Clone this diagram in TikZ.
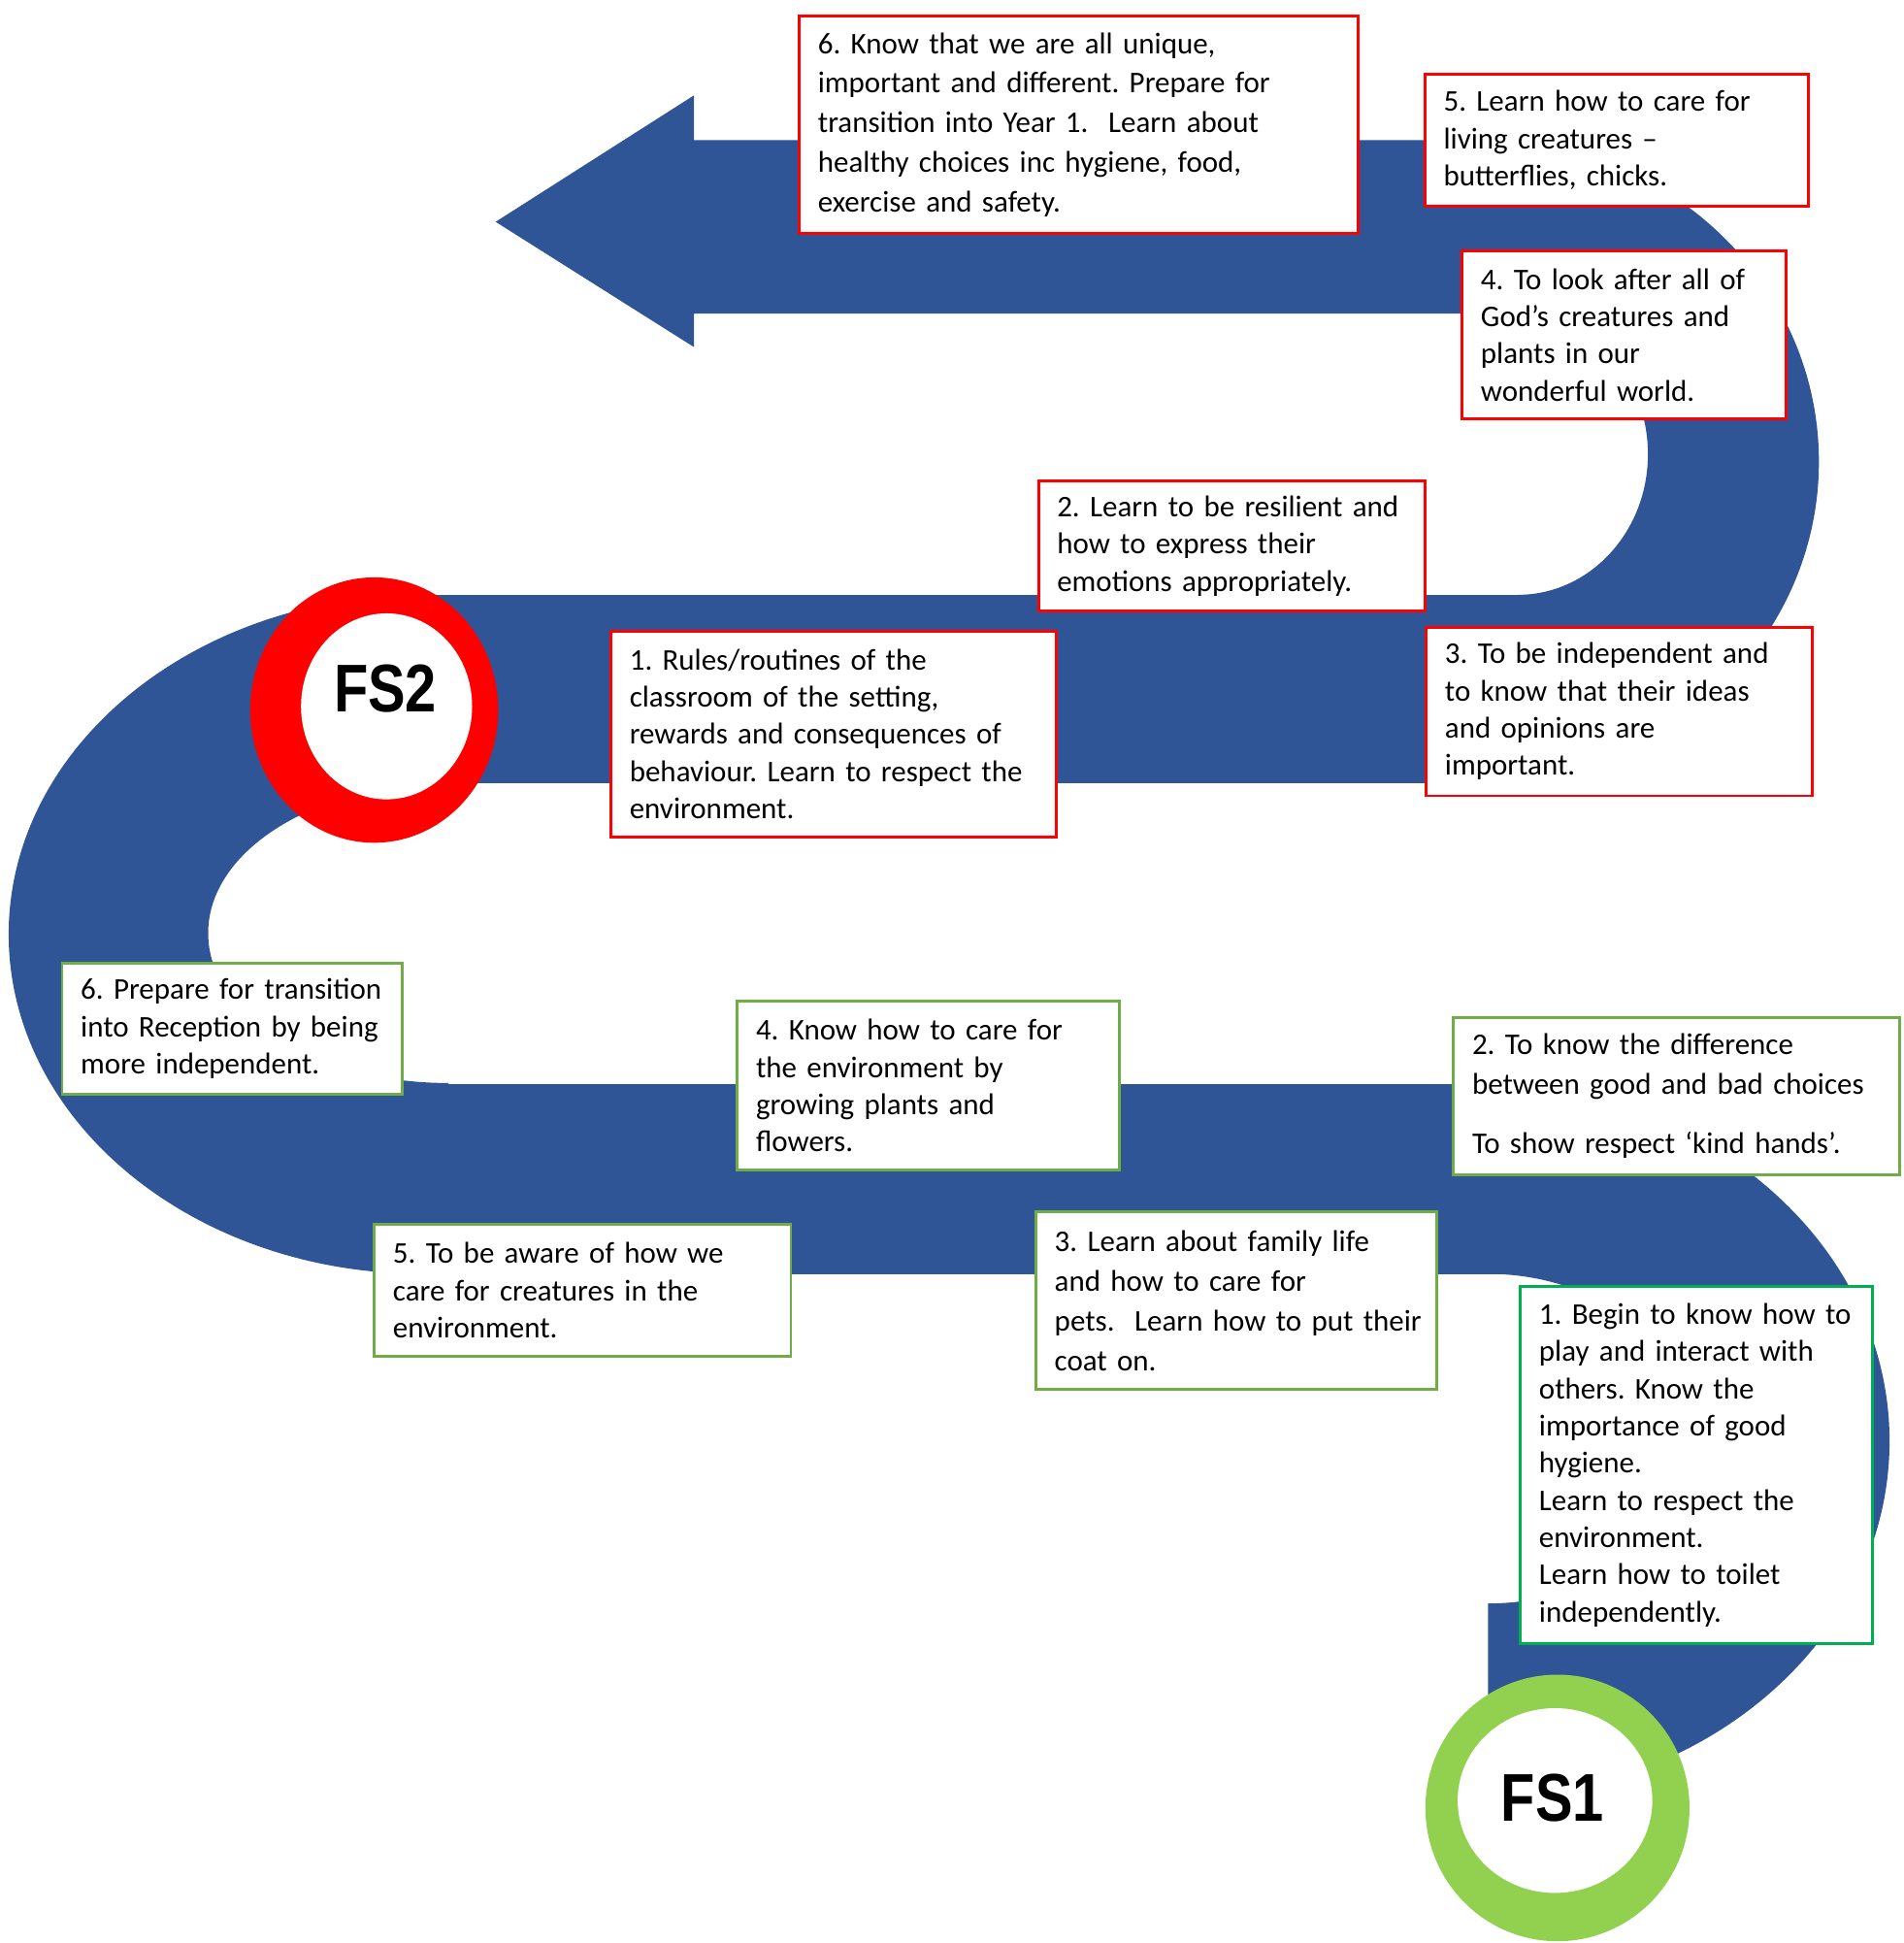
\documentclass[tikz,border=0pt]{standalone}
\usepackage{fontspec}
\setmainfont{Carlito}
\newfontfamily\stagefont[FakeStretch=0.83]{Liberation Sans}
\usepackage{tikz}
\usetikzlibrary{positioning,shapes.geometric}
\definecolor{BandBlue}{HTML}{2F5597}
\definecolor{BoxRed}{HTML}{FF0000}
\definecolor{BoxGreen}{HTML}{70AD47}
\definecolor{EdgeGreen}{HTML}{00B050}
\definecolor{RingGreen}{HTML}{92D050}
\frenchspacing

\begin{document}
\begin{tikzpicture}[
    x=0.01cm, y=-0.01cm,
    font=\fontsize{6.9}{8.54}\selectfont,
    band/.style={fill=BandBlue},
    note/.style={draw, line width=0.65pt, fill=white, anchor=north west, align=left,
                 inner xsep=0pt, inner ysep=0pt, execute at begin node={\leftskip=0.15cm\relax}},
    redbox/.style={note, draw=BoxRed},
    greenbox/.style={note, draw=BoxGreen},
    wide/.style={font=\fontsize{6.9}{9.1}\selectfont},
    ring/.style={ellipse, inner sep=0pt},
    stage/.style={font=\stagefont\bfseries\fontsize{15.5}{15.5}\selectfont, inner sep=0pt}
]
\useasboundingbox (0,0) rectangle (1536,1568);

% the road
\fill[band] (400,179) -- (560,77) -- (560,113) -- (1235,113) -- (1235,253) -- (560,253) -- (560,280) -- cycle;
\begin{scope}
  \clip (1225,100) rectangle (1536,650);
  \fill[band, even odd rule] (1197,372.5) ellipse [x radius=271, y radius=259.5]
                             (1225,366.5) ellipse [x radius=105, y radius=113.5];
\end{scope}
\fill[band] (341,480) rectangle (1235,632);
\begin{scope}
  \clip (0,470) rectangle (362,1040);
  \fill[band, even odd rule] (341,754) ellipse [x radius=334, y radius=274]
                             (362,753) ellipse [x radius=194, y radius=121];
\end{scope}
\fill[band] (355,875) rectangle (1210,1028);
\begin{scope}
  \clip (1201,860) rectangle (1536,1470);
  \fill[band, even odd rule] (1194,1163) ellipse [x radius=331, y radius=288]
                             (1201,1161) ellipse [x radius=165, y radius=133];
\end{scope}

% FS2 steps
\node[redbox, wide, text width=4.51cm, minimum height=1.75cm] (red6) at (644,12)
  {6. Know that we are all unique,\\ important and different. Prepare for\\ transition into Year 1.\ \ Learn about\\ healthy choices inc hygiene, food,\\ exercise and safety.};
\node[redbox, text width=3.09cm, minimum height=1.06cm] (red5) at (1149,59)
  {5. Learn how to care for\\ living creatures –\\ butterflies, chicks.};
\node[redbox, text width=2.61cm, minimum height=1.36cm] (red4) at (1179,201)
  {4. To look after all of\\ God’s creatures and\\ plants in our\\ wonderful world.};
\node[redbox, text width=3.12cm, minimum height=1.05cm] (red2) at (837,387)
  {2. Learn to be resilient and\\ how to express their\\ emotions appropriately.};
\node[redbox, text width=3.59cm, minimum height=1.66cm] (red1) at (492,508)
  {1. Rules/routines of the\\ classroom of the setting,\\ rewards and consequences of\\ behaviour. Learn to respect the\\ environment.};
\node[redbox, text width=3.11cm, minimum height=1.36cm] (red3) at (1150,505)
  {3. To be independent and\\ to know that their ideas\\ and opinions are\\ important.};

% FS1 steps
\node[greenbox, text width=2.74cm, minimum height=1.06cm] (green6) at (49,776)
  {6. Prepare for transition\\ into Reception by being\\ more independent.};
\node[greenbox, text width=3.08cm, minimum height=1.36cm] (green4) at (594,807)
  {4. Know how to care for\\ the environment by\\ growing plants and\\ flowers.};
\node[greenbox, wide, text width=3.60cm, minimum height=1.27cm] (green2) at (1172,820)
  {2. To know the difference\\ between good and bad choices\\[4.5pt] To show respect ‘kind hands’.};
\node[greenbox, text width=3.36cm, minimum height=1.06cm] (green5) at (301,987)
  {5. To be aware of how we\\ care for creatures in the\\ environment.};
\node[greenbox, wide, text width=3.23cm, minimum height=1.43cm] (green3) at (835,977)
  {3. Learn about family life\\ and how to care for\\ pets.\ \ Learn how to put their\\ coat on.};
\node[greenbox, draw=EdgeGreen, text width=2.84cm, minimum height=2.88cm] (green1) at (1226,1037)
  {1. Begin to know how to\\ play and interact with\\ others. Know the\\ importance of good\\ hygiene.\\ Learn to respect the\\ environment.\\ Learn how to toilet\\ independently.};

% stage markers
\node[ring, fill=BoxRed, minimum width=2.00cm, minimum height=2.14cm] (fs2ring) at (302,573) {};
\node[ring, fill=white, minimum width=1.38cm, minimum height=1.50cm] (fs2hole) at (312,570) {};
\node[stage] (fs2) at (311,556) {FS2};
\node[ring, fill=RingGreen, minimum width=2.13cm, minimum height=2.15cm] (fs1ring) at (1257,1459) {};
\node[ring, fill=white, minimum width=1.57cm, minimum height=1.49cm] (fs1hole) at (1255,1453) {};
\node[stage] (fs1) at (1253,1451) {FS1};
\end{tikzpicture}
\end{document}
